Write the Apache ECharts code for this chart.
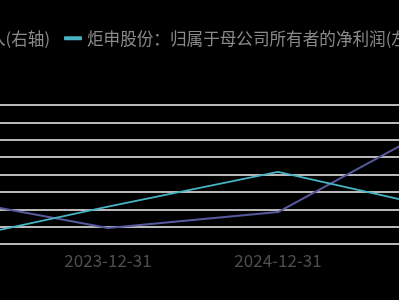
<!DOCTYPE html>
<html>
<head>
<meta charset="utf-8">
<script src="https://cdn.jsdelivr.net/npm/echarts@6/dist/echarts.min.js"></script>
<style>
html,body{margin:0;padding:0;background:#000;overflow:hidden;width:399px;height:300px;}
#c{position:absolute;left:-200px;top:0;width:1000px;height:300px;}
</style>
</head>
<body>
<div id="c"></div>
<script>
const categories = ["2022-12-31", "2023-12-31", "2024-12-31", "2025-09-30"];
const seriesNames = ["炬申股份：营业总收入(右轴)", "炬申股份：归属于母公司所有者的净利润(左轴)"];
const revenue = [5.46, 1.84, 3.68, 14.28];   // right axis
const netProfit = [0.01, 0.43, 0.83, 0.39];  // left axis

const FONT = '"Noto Sans CJK SC", "Noto Sans", sans-serif';
const FS = 16.6;
// measure first legend label to place the legend
const cv = document.createElement('canvas').getContext('2d');
cv.font = FS + 'px ' + FONT;
const w1 = cv.measureText(seriesNames[0]).width;
const iconW = 18, gapText = 5, itemGap = 14;
const icon2Left = 259; // container coords
const legendLeft = icon2Left - itemGap - w1 - gapText - iconW;

const chart = echarts.init(document.getElementById('c'), null, {renderer: 'canvas'});
chart.setOption({
  backgroundColor: '#000',
  animation: false,
  legend: {
    left: legendLeft, top: 25,
    itemWidth: iconW, itemHeight: 4, itemGap: itemGap,
    icon: 'roundRect',
    textStyle: {color: '#8a8a8a', fontSize: FS, fontFamily: FONT},
    data: seriesNames
  },
  grid: {left: 53, width: 680, top: 105, bottom: 56, containLabel: false},
  xAxis: {
    type: 'category', data: categories, boundaryGap: true,
    axisLine: {show: true, lineStyle: {color: '#b8b8b8', width: 2}},
    axisTick: {show: false},
    axisLabel: {color: '#4e4e4e', fontSize: 17, fontFamily: FONT, margin: 8}
  },
  yAxis: [
    {type: 'value', min: 0, max: 1.6, interval: 0.2, position: 'left',
     axisLabel: {show: false}, axisLine: {show: false}, axisTick: {show: false},
     splitLine: {lineStyle: {color: '#b8b8b8', width: 2}}},
    {type: 'value', min: 0, max: 16, interval: 2, position: 'right',
     axisLabel: {show: false}, axisLine: {show: false}, axisTick: {show: false},
     splitLine: {show: false}}
  ],
  series: [
    {name: seriesNames[0], type: 'line', yAxisIndex: 1, data: revenue,
     symbol: 'none', lineStyle: {color: '#565a9c', width: 2}, itemStyle: {color: '#565a9c'}},
    {name: seriesNames[1], type: 'line', yAxisIndex: 0, data: netProfit,
     symbol: 'none', lineStyle: {color: '#47b3c4', width: 2}, itemStyle: {color: '#47b3c4'}}
  ]
});
</script>
</body>
</html>
